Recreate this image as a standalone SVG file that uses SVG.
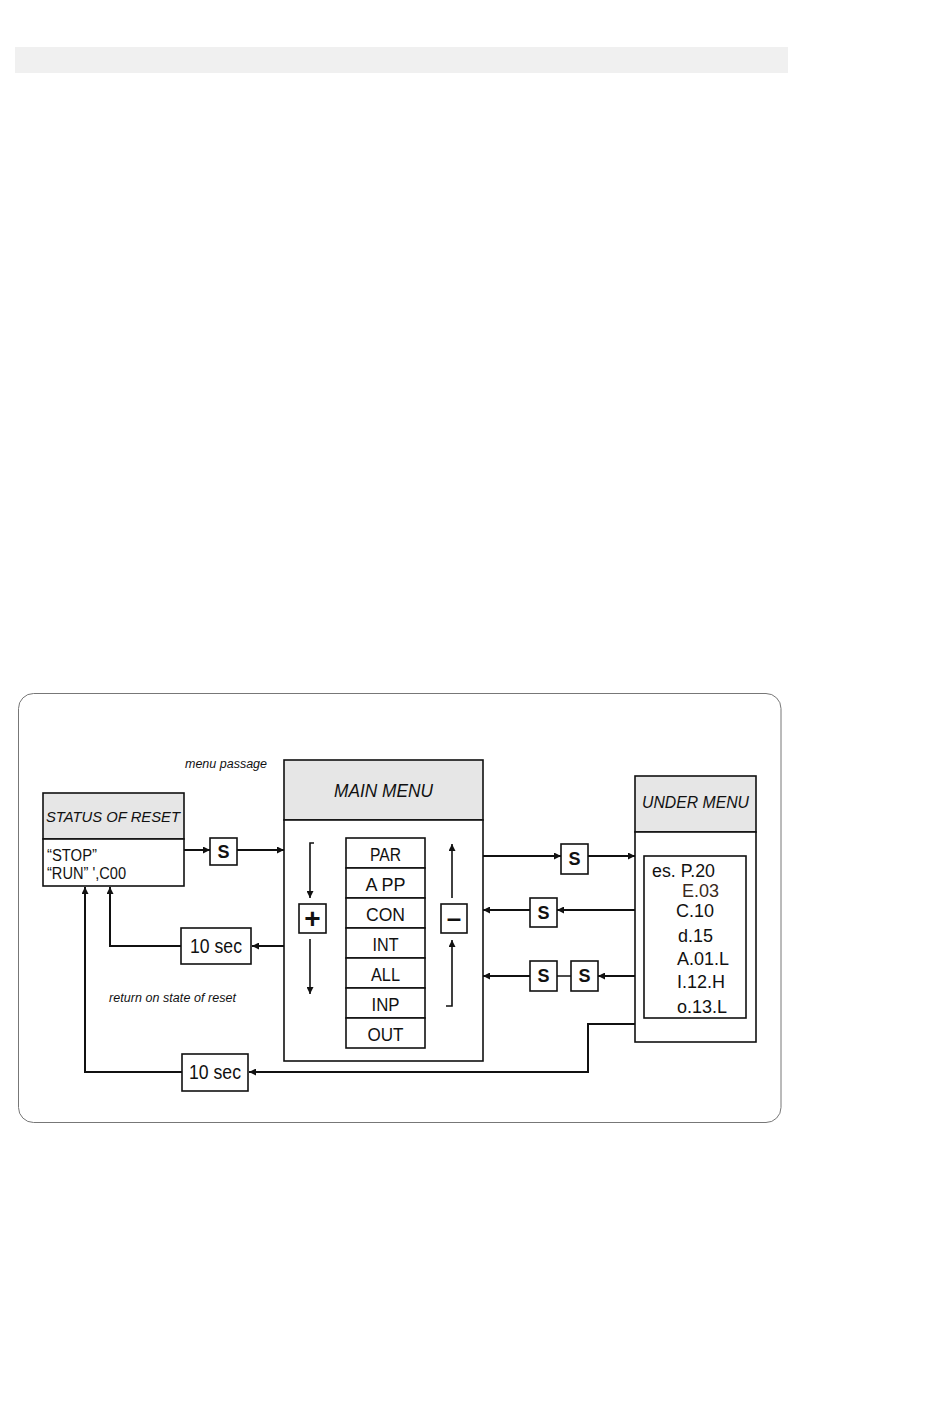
<svg xmlns="http://www.w3.org/2000/svg" width="950" height="1420" viewBox="0 0 950 1420">
<style>
text{font-family:"Liberation Sans",Arial,sans-serif;fill:#111}
.box{fill:#fff;stroke:#111;stroke-width:1.6}
.hdr{fill:#e6e6e6;stroke:#111;stroke-width:1.6}
.it{font-style:italic}
.c{stroke:#111;stroke-width:2;fill:none}
.t{stroke:#111;stroke-width:1.6;fill:none}
.s{font-weight:bold;font-size:18px;text-anchor:middle}
.m{font-size:19px;text-anchor:middle}
.u{font-size:18px}
</style>
<defs>
<marker id="ah" viewBox="0 0 10 10" refX="10" refY="5" markerWidth="9" markerHeight="7" markerUnits="userSpaceOnUse" orient="auto">
<path d="M0,0 L10,5 L0,10 z" fill="#111"/>
</marker>
</defs>
<rect x="15" y="47" width="773" height="26" fill="#f0f0f0"/>
<rect x="18.5" y="693.5" width="762.5" height="429" rx="15" fill="none" stroke="#777" stroke-width="1"/>

<g id="connectors">
<line class="c" x1="184" y1="850" x2="210" y2="850" marker-end="url(#ah)"/>
<line class="c" x1="237" y1="850" x2="284" y2="850" marker-end="url(#ah)"/>
<line class="c" x1="284" y1="946" x2="252" y2="946" marker-end="url(#ah)"/>
<polyline class="c" points="181,946 110,946 110,887" marker-end="url(#ah)"/>
<polyline class="c" points="182,1072 85,1072 85,887" marker-end="url(#ah)"/>
<polyline class="c" points="635,1024 588,1024 588,1072 249,1072" marker-end="url(#ah)"/>
<line class="c" x1="483" y1="856" x2="561" y2="856" marker-end="url(#ah)"/>
<line class="c" x1="588" y1="856" x2="635" y2="856" marker-end="url(#ah)"/>
<line class="c" x1="635" y1="910" x2="557" y2="910" marker-end="url(#ah)"/>
<line class="c" x1="530" y1="910" x2="483" y2="910" marker-end="url(#ah)"/>
<line class="c" x1="635" y1="976" x2="598" y2="976" marker-end="url(#ah)"/>
<line class="c" x1="571" y1="976" x2="557" y2="976" style="stroke-width:1.5"/>
<line class="c" x1="530" y1="976" x2="483" y2="976" marker-end="url(#ah)"/>
</g>

<text x="185" y="768" class="it" font-size="12.5" textLength="82">menu passage</text>
<text x="109" y="1002" class="it" font-size="12.5" textLength="127">return on state of reset</text>

<g id="status">
<rect class="hdr" x="43" y="793" width="141" height="46"/>
<rect class="box" x="43" y="839" width="141" height="47"/>
<text x="113" y="822" class="it" font-size="15.5" text-anchor="middle" textLength="134" lengthAdjust="spacingAndGlyphs">STATUS OF RESET</text>
<text x="47" y="861" font-size="16" textLength="50" lengthAdjust="spacingAndGlyphs">“STOP”</text>
<text x="47" y="879" font-size="16" textLength="79" lengthAdjust="spacingAndGlyphs">“RUN” ',C00</text>
</g>

<g id="s1"><rect class="box" x="210" y="838" width="27" height="27"/><text x="223.5" y="858" class="s">S</text></g>

<g id="mainmenu">
<rect class="hdr" x="284" y="760" width="199" height="60"/>
<rect class="box" x="284" y="820" width="199" height="241"/>
<text x="383.5" y="797" class="it" font-size="19" text-anchor="middle" textLength="99" lengthAdjust="spacingAndGlyphs">MAIN MENU</text>
</g>

<g id="updown">
<polyline class="t" points="314,843 310,843 310,898" marker-end="url(#ah)"/>
<line class="t" x1="310" y1="939" x2="310" y2="994" marker-end="url(#ah)"/>
<line class="t" x1="452" y1="898" x2="452" y2="844" marker-end="url(#ah)"/>
<polyline class="t" points="446,1006 452,1006 452,940" marker-end="url(#ah)"/>
</g>

<g id="items">
<rect class="box" x="346" y="838" width="79" height="30"/><text x="385.5" y="861" class="m" textLength="31" lengthAdjust="spacingAndGlyphs">PAR</text>
<rect class="box" x="346" y="868" width="79" height="30"/><text x="385.5" y="891" class="m" textLength="40" lengthAdjust="spacingAndGlyphs">A PP</text>
<rect class="box" x="346" y="898" width="79" height="30"/><text x="385.5" y="921" class="m" textLength="39" lengthAdjust="spacingAndGlyphs">CON</text>
<rect class="box" x="346" y="928" width="79" height="30"/><text x="385.5" y="951" class="m" textLength="26" lengthAdjust="spacingAndGlyphs">INT</text>
<rect class="box" x="346" y="958" width="79" height="30"/><text x="385.5" y="981" class="m" textLength="29" lengthAdjust="spacingAndGlyphs">ALL</text>
<rect class="box" x="346" y="988" width="79" height="30"/><text x="385.5" y="1011" class="m" textLength="28" lengthAdjust="spacingAndGlyphs">INP</text>
<rect class="box" x="346" y="1018" width="79" height="30"/><text x="385.5" y="1041" class="m" textLength="36" lengthAdjust="spacingAndGlyphs">OUT</text>
</g>

<g id="plus"><rect class="box" x="299" y="904" width="27" height="29"/><text x="312.5" y="928" font-size="28" font-weight="bold" text-anchor="middle">+</text></g>
<g id="minus"><rect class="box" x="441" y="904" width="26" height="29"/><text x="454" y="927" font-size="26" font-weight="bold" text-anchor="middle">–</text></g>

<g id="undermenu">
<rect class="hdr" x="635" y="776" width="121" height="56"/>
<rect class="box" x="635" y="832" width="121" height="210"/>
<text x="695.5" y="808" class="it" font-size="16" text-anchor="middle" textLength="107" lengthAdjust="spacingAndGlyphs">UNDER MENU</text>
<rect class="box" x="644" y="856" width="102" height="162"/>
<text x="652" y="877" class="u" textLength="63" lengthAdjust="spacingAndGlyphs">es. P.20</text>
<text x="682" y="897" class="u" style="fill:#3b2a1c">E.03</text>
<text x="676" y="917" class="u">C.10</text>
<text x="678" y="942" class="u">d.15</text>
<text x="677" y="965" class="u">A.01.L</text>
<text x="677" y="988" class="u">I.12.H</text>
<text x="677" y="1013" class="u">o.13.L</text>
</g>

<g id="s2"><rect class="box" x="561" y="844" width="27" height="30"/><text x="574.5" y="865" class="s">S</text></g>
<g id="s3"><rect class="box" x="530" y="898" width="27" height="29"/><text x="543.5" y="919" class="s">S</text></g>
<g id="s4"><rect class="box" x="530" y="961" width="27" height="30"/><text x="543.5" y="982" class="s">S</text></g>
<g id="s5"><rect class="box" x="571" y="961" width="27" height="30"/><text x="584.5" y="982" class="s">S</text></g>

<g id="t1"><rect class="box" x="181" y="928" width="70" height="36"/><text x="216" y="953" font-size="20" text-anchor="middle" textLength="52" lengthAdjust="spacingAndGlyphs">10 sec</text></g>
<g id="t2"><rect class="box" x="182" y="1054" width="66" height="37"/><text x="215" y="1079" font-size="20" text-anchor="middle" textLength="52" lengthAdjust="spacingAndGlyphs">10 sec</text></g>
</svg>
